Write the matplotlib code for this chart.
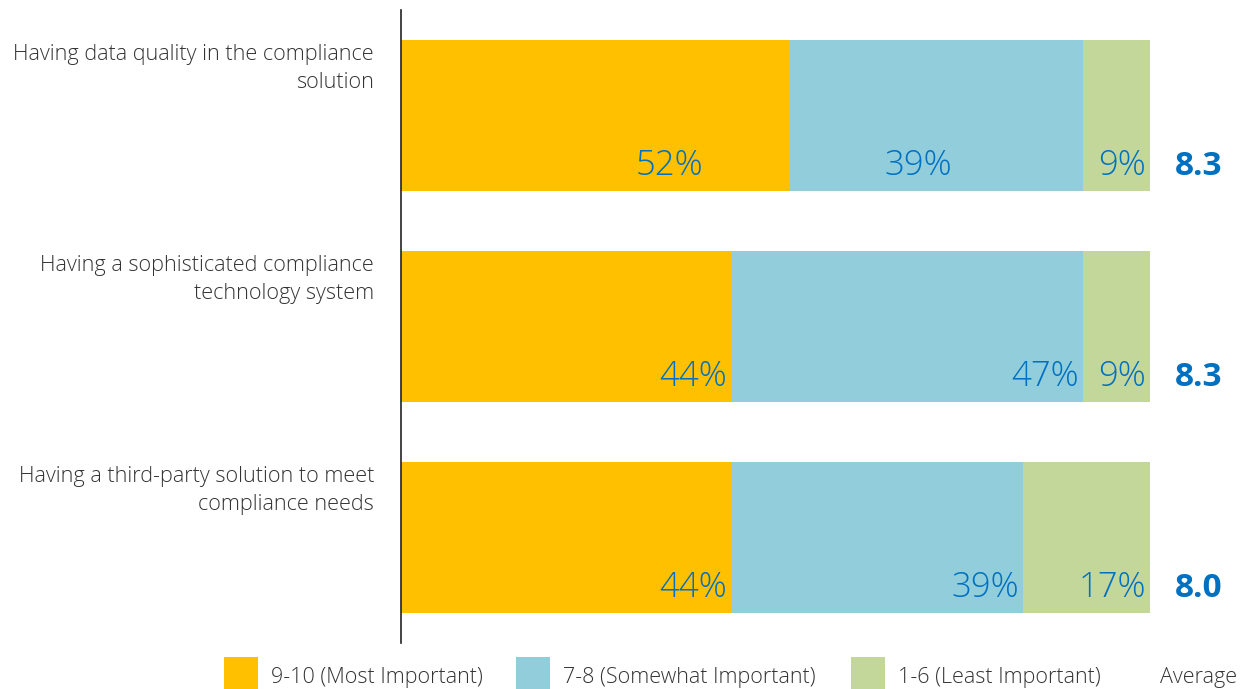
import matplotlib.pyplot as plt
from matplotlib.patches import Rectangle

plt.rcParams['font.family'] = ['Open Sans', 'DejaVu Sans']

categories = [
    "Having data quality in the compliance\nsolution",
    "Having a sophisticated compliance\ntechnology system",
    "Having a third-party solution to meet\ncompliance needs",
]
most = [52, 44, 44]
somewhat = [39, 47, 39]
least = [9, 9, 17]
averages = ["8.3", "8.3", "8.0"]
series_names = ["9-10 (Most Important)", "7-8 (Somewhat Important)", "1-6 (Least Important)"]
colors = ["#FFC000", "#92CDDC", "#C4D79B"]
text_blue = "#0070C0"

# a couple of labels in the first row sit further left inside their segment
label_nudge = {(0, 0): -11.2, (0, 1): -16.9}

W, H = 1251, 689
fig = plt.figure(figsize=(W / 100, H / 100), dpi=100)
ax = fig.add_axes([401 / W, 1 - 643 / H, 749 / W, 633 / H])
ax.set_xlim(0, 100)
ax.set_ylim(2.5, -0.5)

y = list(range(len(categories)))
height = 0.716
lefts = [0] * len(categories)
for si, (vals, col) in enumerate(zip([most, somewhat, least], colors)):
    ax.barh(y, vals, left=lefts, height=height, color=col, edgecolor='none')
    for yi, l, v in zip(y, lefts, vals):
        x = l + v - 0.5 + label_nudge.get((yi, si), 0)
        ax.text(x, yi + height / 2 - 0.04, f"{v}%", ha='right', va='bottom',
                fontsize=25, color=text_blue, fontweight='light')
    lefts = [a + b for a, b in zip(lefts, vals)]

for yi, avg in zip(y, averages):
    ax.text(106.5, yi + height / 2 - 0.04, avg, ha='center', va='bottom',
            fontsize=24, color=text_blue, fontweight='bold', clip_on=False)

for yi, cat in zip(y, categories):
    ax.text(-3.6, yi - height / 2 + 0.02, cat, ha='right', va='top', fontsize=15.6,
            color='#333333', fontweight='light', linespacing=1.45)

for s in ['top', 'right', 'bottom']:
    ax.spines[s].set_visible(False)
ax.spines['left'].set_color('#222222')
ax.spines['left'].set_linewidth(1.2)
ax.set_xticks([])
ax.set_yticks([])

# legend drawn by hand along the bottom edge
box_x = [224, 516, 851]
text_x = [271, 563, 898]
for bx, tx, name, col in zip(box_x, text_x, series_names, colors):
    fig.add_artist(Rectangle((bx / W, 0), 34 / W, 32 / H, transform=fig.transFigure,
                             facecolor=col, edgecolor='none'))
    fig.text(tx / W, 1 - 677 / H, name, ha='left', va='center', fontsize=15.5,
             color='#333333', fontweight='light')
fig.text(1160 / W, 1 - 677 / H, "Average", ha='left', va='center', fontsize=15.5,
         color='#333333', fontweight='light')

fig.savefig('out.png', dpi=100, facecolor='white')
